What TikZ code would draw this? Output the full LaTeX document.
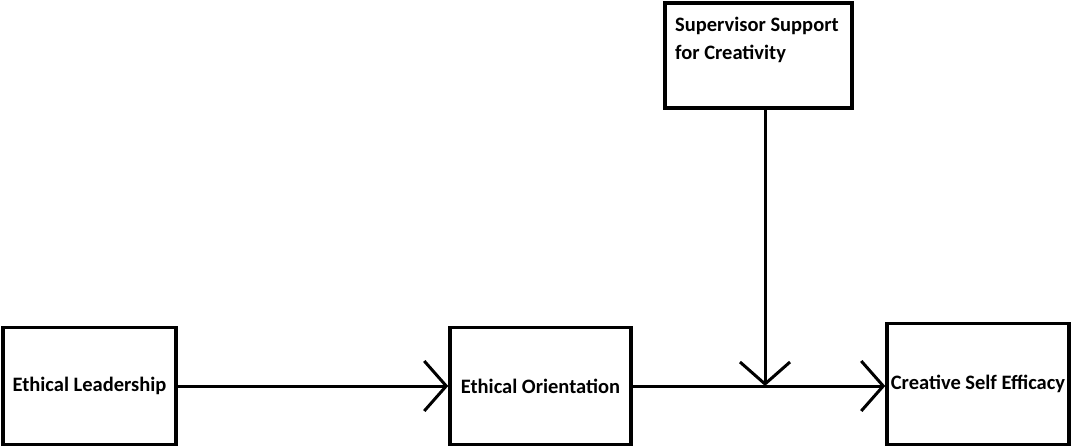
\documentclass[tikz,border=0pt]{standalone}
\usepackage{fontspec}
\setmainfont{Carlito}
\usetikzlibrary{arrows.meta}
\begin{document}
\begin{tikzpicture}[x=1pt,y=-1pt,
  box/.style={draw=black, line width=3.5pt, rectangle, inner sep=0pt, fill=white},
  lbl/.style={font=\fontsize{20.5}{28}\selectfont\bfseries, text=black, inner sep=0pt},
  conn/.style={line width=3pt, -{Straight Barb[length=22pt,width=50pt,line width=3pt]}}]
\useasboundingbox[fill=white] (0,0) rectangle (1071,447);
\node[box, minimum width=173pt, minimum height=117pt, lbl] (EL) at (89.5,386) {Ethical Leadership};
\node[box, minimum width=181pt, minimum height=117pt, lbl] (EO) at (540.5,386) {Ethical Orientation};
\node[box, minimum width=182pt, minimum height=121pt, lbl] (CSE) at (978,384) {Creative Self Efficacy};
\node[box, minimum width=187pt, minimum height=105pt] (SS) at (758.5,55.5) {};
\node[lbl, anchor=north west, align=left] (SSt) at (675,17) {Supervisor Support\\for Creativity};
\coordinate (m) at (765,386);
\draw[conn] (EL.east) -- (EO.west);
\draw[conn] (EO.east) -- (EO.east -| CSE.west);
\draw[conn] (SS.south -| m) -- (m);
\end{tikzpicture}
\end{document}
